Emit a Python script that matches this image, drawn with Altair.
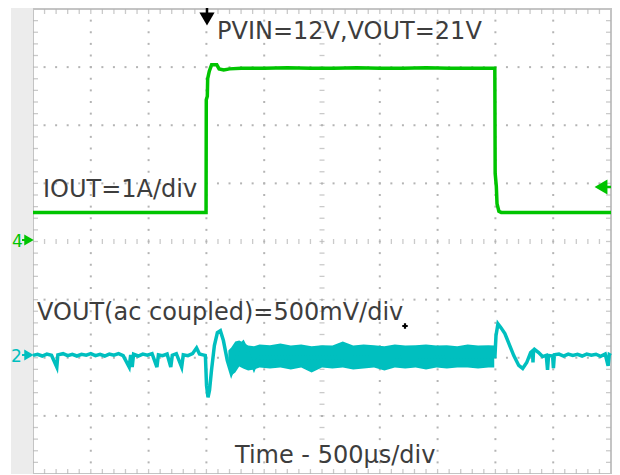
import altair as alt
import pandas as pd

# ---------------- data ----------------
# time base: 500 us/div, 10 divisions
# IOUT channel (ch4): 1 A/div, offset marker at division 4
iout_t = [0, 1497, 1499, 1508, 1511, 1525, 1545, 1590, 1610, 1650, 1700, 1800,
          2000, 2200, 2400, 2600, 2800, 3000, 3200, 3400, 3600, 3800, 3995,
          3998, 4008, 4014, 4030, 4050, 5000]
iout_a = [0.5, 0.5, 2.44, 2.5, 2.8, 2.93, 3.04, 3.04, 2.97, 2.95, 2.97, 2.98,
          2.98, 2.99, 2.98, 2.98, 2.99, 2.98, 2.98, 2.99, 2.98, 2.98, 2.98,
          1.17, 0.95, 0.65, 0.52, 0.5, 0.5]

# VOUT channel (ch2, ac coupled): 500 mV/div, offset marker at division 2
vout_t = [0, 40, 80, 120, 160, 206, 215, 260, 300, 340, 380, 420, 460, 500, 540,
          580, 620, 660, 700, 740, 780, 832, 845, 858, 870, 910, 950, 990, 1030,
          1072, 1085, 1120, 1160, 1192, 1205, 1240, 1286, 1300, 1340, 1380, 1415,
          1440, 1470, 1490,
          1492, 1501, 1514, 1527, 1544, 1569, 1595, 1621, 1647, 1681, 1715, 1750,
          1784, 1818, 1861, 1912, 1950,
          3996, 4005, 4022, 4048, 4082, 4117, 4159, 4202, 4236, 4271, 4305, 4322,
          4325, 4330, 4339, 4374, 4408, 4440, 4451, 4460, 4495, 4502, 4510, 4550,
          4590, 4630, 4670, 4710, 4750, 4790, 4830, 4870, 4910, 4950, 4975, 4985,
          5000]
vout_mv = [20, 30, 15, 32, 22, -80, 25, 35, 18, 30, 15, 30, 22, 35, 18,
           30, 15, 32, 22, 35, 18, -80, 25, -80, 30, 15, 32, 22, 35,
           -80, 25, 18, 32, -80, 22, 35, -80, 25, 18, 35, 85,
           32, 25, 20,
           2, -238, -340, -280, -109, 105, 216, 233, 148, -24, -135, -41,
           96, 131, 45, -92, 0,
           10, 190, 293, 259, 208, 122, 19, -66, -92, -41, 45, 60,
           -40, 65, 71, 45, 10, 20, -105, 20, 15, -90, 25, 32,
           15, 32, 20, 30, 15, 32, 22, 30, 12, 32, -70, 28,
           20]

# envelope of the fast ringing band while the load is high
band_t = [1690, 1715, 1750, 1784, 1818, 1861, 1912, 1960, 2050, 2140, 2230, 2320,
          2410, 2500, 2590, 2680, 2770, 2860, 2950, 3040, 3130, 3220, 3310, 3400,
          3490, 3580, 3670, 3760, 3850, 3940, 3990]
band_hi = [62, 88, 139, 148, 131, 105, 100, 113, 108, 122, 105, 113,
           100, 108, 105, 139, 105, 113, 108, 100, 113, 105, 108, 113,
           105, 108, 100, 113, 105, 108, 105]
band_lo = [-24, -152, -126, -75, -92, -109, -101, -83, -92, -83, -101, -83,
           -126, -83, -92, -83, -101, -92, -83, -109, -83, -92, -83, -101,
           -83, -92, -83, -83, -92, -83, -83]

# ---------------- layout ----------------
W, H = 578, 465
GREEN = "#00c400"
CYAN = "#00bfbf"
GRID = "#b4b4b4"
TXT = "#3d3d3d"
FONT = "DejaVu Sans"

xs = alt.Scale(domain=[0, 5000], nice=False, zero=False)
ys = alt.Scale(domain=[0, 8], nice=False, zero=False)


def X(f="t"):
    return alt.X(f, type="quantitative", scale=xs, axis=None)


def Y(f="d"):
    return alt.Y(f, type="quantitative", scale=ys, axis=None)


one = pd.DataFrame({"a": [0]})

# left grey band
band_left = alt.Chart(one).mark_rect(color="#ececec", clip=False).encode(
    x=alt.value(-22), x2=alt.value(0), y=alt.value(-2), y2=alt.value(H + 2))

# grid dots
dots = []
for k in [1, 2, 3, 4, 6, 7, 8, 9]:
    for j in range(1, 40):
        dots.append({"t": 500 * k, "d": 0.2 * j})
for m in [1, 2, 3, 5, 6, 7]:
    for j in range(1, 50):
        dots.append({"t": 100 * j, "d": m})
dots_df = pd.DataFrame(dots)
grid = alt.Chart(dots_df).mark_square(size=4, color=GRID, opacity=1).encode(x=X(), y=Y())


def vticks(dval, off):
    df = pd.DataFrame({"t": [100 * j for j in range(1, 50)], "d": [dval] * 49})
    return alt.Chart(df).mark_tick(orient="vertical", size=5, thickness=1.3,
                                   color=GRID, yOffset=off).encode(x=X(), y=Y())


def hticks(tval, off):
    df = pd.DataFrame({"d": [0.2 * j for j in range(1, 40)], "t": [tval] * 39})
    return alt.Chart(df).mark_tick(orient="horizontal", size=5, thickness=1.3,
                                   color=GRID, xOffset=off).encode(x=X(), y=Y())


ticks = [vticks(0, -2.5), vticks(8, 2.5), vticks(4, 0),
         hticks(0, 2.5), hticks(5000, -2.5), hticks(2500, 0)]

# traces
iout_df = pd.DataFrame({"t": iout_t, "a": iout_a})
iout = alt.Chart(iout_df).transform_calculate(d="datum.a / 1 + 4").mark_line(
    color=GREEN, strokeWidth=3.5).encode(x=X(), y=Y())

vout_df = pd.DataFrame({"t": vout_t, "mv": vout_mv})
vout = alt.Chart(vout_df).transform_calculate(d="datum.mv / 500 + 2").mark_line(
    color=CYAN, strokeWidth=3.5).encode(x=X(), y=Y())

band_df = pd.DataFrame({"t": band_t, "hi": band_hi, "lo": band_lo})
vband = alt.Chart(band_df).transform_calculate(
    d="datum.hi / 500 + 2", d2="datum.lo / 500 + 2").mark_area(
    color=CYAN, opacity=1).encode(x=X(), y=Y(), y2=alt.Y2("d2:Q"))


def label(txt, x, y, size=24, color=TXT):
    return alt.Chart(one).mark_text(align="left", baseline="alphabetic", font=FONT,
                                    fontSize=size, color=color, text=txt).encode(
        x=alt.value(x), y=alt.value(y))


texts = [
    label("PVIN=12V,VOUT=21V", 184, 30),
    label("IOUT=1A/div", 10, 188),
    label("VOUT(ac coupled)=500mV/div", 4, 311),
    label("Time - 500\u00b5s/div", 202, 454),
    label("4", -21, 238, size=17, color=GREEN),
    label("2", -22, 353, size=17, color=CYAN),
]


def marker(shape, x, y, color, size):
    return alt.Chart(one).mark_point(shape=shape, filled=True, color=color, size=size,
                                     opacity=1, clip=False).encode(
        x=alt.value(x), y=alt.value(y))


def seg(x1, x2, y1, y2, color, w=2):
    return alt.Chart(one).mark_rule(color=color, strokeWidth=w, clip=False).encode(
        x=alt.value(x1), x2=alt.value(x2), y=alt.value(y1), y2=alt.value(y2))


marks = [
    seg(-11, -3, 231, 231, GREEN), marker("triangle-right", -4, 231, GREEN, 120),
    seg(-11, -3, 346, 346, CYAN), marker("triangle-right", -4, 346, CYAN, 120),
    seg(568, 578, 178, 178, GREEN, 2.5), marker("triangle-left", 568, 178, GREEN, 220),
    seg(174, 174, -1, 5, "#000000", 2.5), marker("triangle-down", 174, 10, "#000000", 230),
    marker("cross", 372, 317, "#000000", 30),
]

chart = alt.layer(band_left, grid, *ticks, vband, vout, iout, *texts, *marks).properties(
    width=W, height=H,
    padding={"left": 25, "top": 1, "right": 1, "bottom": 0},
    autosize=alt.AutoSizeParams(type="none"),
).configure_view(stroke="#c4c4c4", strokeWidth=2)

chart.save("out.html", embed_options={"renderer": "svg", "actions": False})
